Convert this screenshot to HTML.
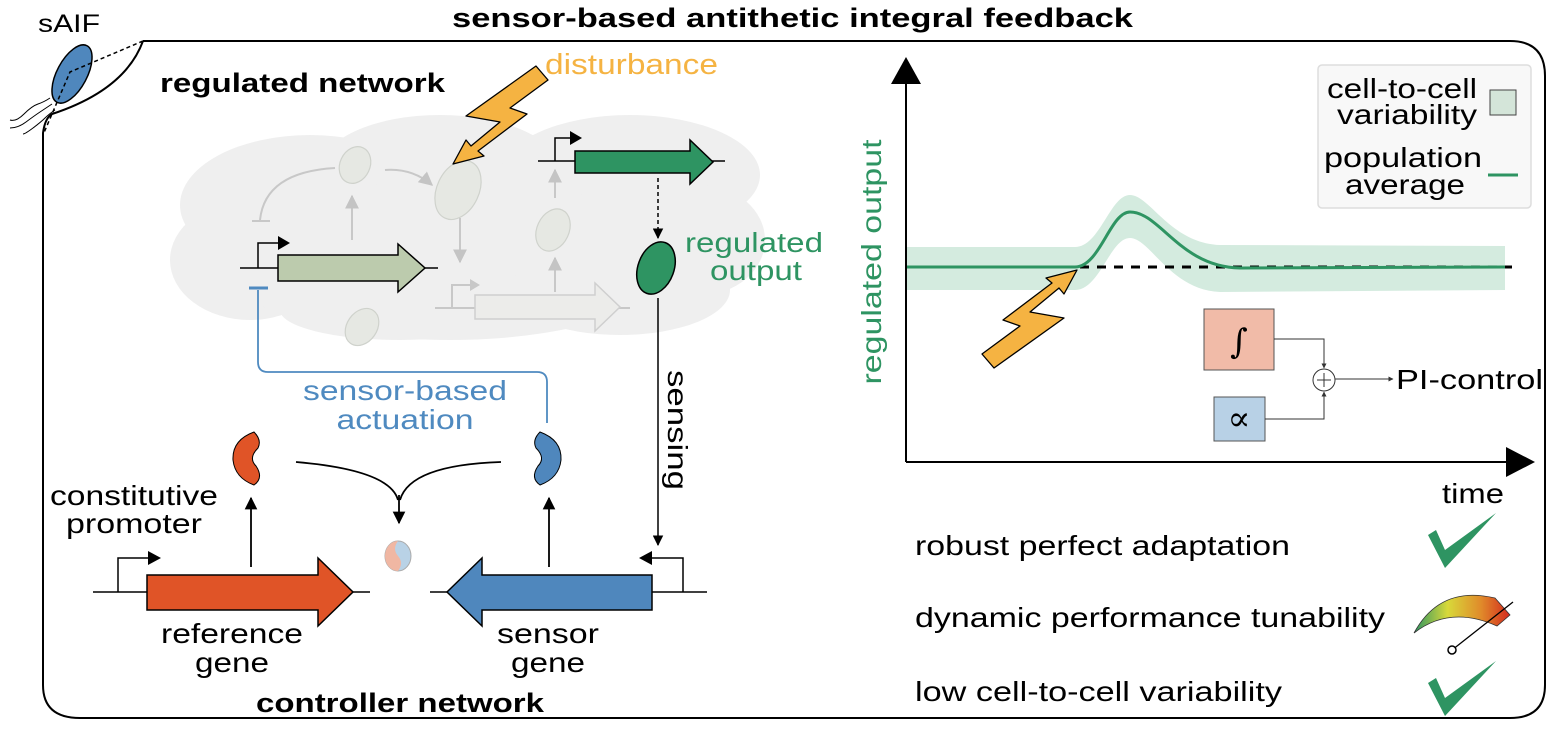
<!DOCTYPE html>
<html><head><meta charset="utf-8"><style>html,body{margin:0;padding:0;background:#fff}svg{display:block}</style></head><body>
<svg width="1553" height="731" viewBox="0 0 1553 731" xmlns="http://www.w3.org/2000/svg" font-family="Liberation Sans, sans-serif">
<defs>
<marker id="ah" viewBox="0 0 10 10" refX="9" refY="5" markerWidth="7" markerHeight="7" orient="auto"><path d="M0,0L10,5L0,10z" fill="#000"/></marker>
<marker id="ag" viewBox="0 0 10 10" refX="9" refY="5" markerWidth="7" markerHeight="7" orient="auto"><path d="M0,0L10,5L0,10z" fill="#c4c4c4"/></marker>
<marker id="as" viewBox="0 0 10 10" refX="9" refY="5" markerWidth="5" markerHeight="5" orient="auto"><path d="M0,0L10,5L0,10z" fill="#333"/></marker>
<linearGradient id="gg" x1="0" x2="1"><stop offset="0" stop-color="#2e9462"/><stop offset="0.35" stop-color="#d8d93a"/><stop offset="0.7" stop-color="#e08a2a"/><stop offset="1" stop-color="#d42a1e"/></linearGradient>
</defs>
<!-- title -->
<text x="452" y="27" font-size="27" font-weight="bold" textLength="681" lengthAdjust="spacingAndGlyphs">sensor-based antithetic integral feedback</text>
<text x="38" y="32" font-size="25" textLength="62" lengthAdjust="spacingAndGlyphs">sAIF</text>
<!-- frame -->
<path d="M143,41 L1510,41 Q1545,41 1545,76 L1545,685 Q1545,718 1510,718 L80,718 Q43,718 43,685 L43,133 Q45,118 52,114 Q125,90 143,41" fill="none" stroke="#000" stroke-width="2"/>
<!-- cell -->
<path d="M50,98 q-6,4 -12,6 t-14,10 t-14,6 M52,104 q-6,4 -12,8 t-14,10 t-16,6 M55,110 q-6,4 -10,8 t-12,10 t-10,6" fill="none" stroke="#000" stroke-width="1"/>
<ellipse cx="72" cy="74" rx="15" ry="32" transform="rotate(28 72 74)" fill="#4f87bd" stroke="#000" stroke-width="1.5"/>
<path d="M143,41 L70,72 L43,135" fill="none" stroke="#000" stroke-width="1.5" stroke-dasharray="4,3"/>
<!-- regulated network -->
<text x="160" y="92" font-size="27" font-weight="bold" textLength="285" lengthAdjust="spacingAndGlyphs">regulated network</text>
<text x="545" y="74" font-size="29" fill="#f5b342" textLength="173" lengthAdjust="spacingAndGlyphs">disturbance</text>
<!-- cloud -->
<g fill="#efefef">
<ellipse cx="310" cy="205" rx="130" ry="70"/><ellipse cx="440" cy="170" rx="120" ry="55"/><ellipse cx="630" cy="175" rx="130" ry="60"/>
<ellipse cx="250" cy="260" rx="80" ry="60"/><ellipse cx="450" cy="260" rx="230" ry="80"/><ellipse cx="700" cy="240" rx="65" ry="55"/>
<ellipse cx="400" cy="310" rx="120" ry="30"/><ellipse cx="620" cy="290" rx="110" ry="45"/>
</g>
<!-- faded stuff -->
<g stroke="#c8c8c8" stroke-width="2" fill="none">
<path d="M260,220 Q265,172 335,168"/>
<line x1="252" y1="221" x2="270" y2="221"/>
<path d="M385,170 Q412,168 432,185" marker-end="url(#ag)"/>
<line x1="352" y1="240" x2="352" y2="196" marker-end="url(#ag)"/>
<line x1="460" y1="218" x2="460" y2="262" marker-end="url(#ag)"/>
<line x1="555" y1="292" x2="555" y2="258" marker-end="url(#ag)"/>
<line x1="555" y1="198" x2="555" y2="170" marker-end="url(#ag)"/>
<line x1="435" y1="308" x2="630" y2="308"/>
<path d="M452,308 V285 H470"/>
</g>
<path d="M470,279 L480,285 L470,291z" fill="#c8c8c8"/>
<path d="M475,295 H595 V283 L620,307 L595,331 V319 H475z" fill="#ececea" stroke="#cfcfcf" stroke-width="1.5"/>
<g fill="#e6e8e3" stroke="#cfd2cc" stroke-width="1.2">
<ellipse cx="355" cy="165" rx="15" ry="19" transform="rotate(25 355 165)"/>
<ellipse cx="458" cy="190" rx="21" ry="31" transform="rotate(25 458 190)"/>
<ellipse cx="553" cy="230" rx="16" ry="22" transform="rotate(25 553 230)"/>
<ellipse cx="362" cy="327" rx="15" ry="20" transform="rotate(35 362 327)"/>
</g>
<!-- lightning 1 -->
<path id="bolt" d="M536,66 L548,80 L510,108 L527,114 L478,151 L484,156 L453,164 L466,140 L471,146 L500,122 L466,116z" fill="#f5b342" stroke="#000" stroke-width="1.3" stroke-linejoin="round"/>
<!-- green-gray gene -->
<line x1="240" y1="268" x2="438" y2="268" stroke="#000" stroke-width="1.5"/>
<path d="M258,268 V243 H280" fill="none" stroke="#000" stroke-width="1.5"/>
<path d="M278,236 L290,243 L278,250z"/>
<path d="M278,255 H398 V244 L425,268 L398,292 V281 H278z" fill="#bccbad" stroke="#000" stroke-width="1.5"/>
<!-- dark green gene -->
<line x1="538" y1="161" x2="725" y2="161" stroke="#000" stroke-width="1.5"/>
<path d="M555,161 V138 H572" fill="none" stroke="#000" stroke-width="1.5"/>
<path d="M570,131 L582,138 L570,145z"/>
<path d="M575,151 H690 V140 L713,162 L690,184 V173 H575z" fill="#2e9462" stroke="#000" stroke-width="1.5"/>
<line x1="658" y1="178" x2="658" y2="238" stroke="#000" stroke-width="1.5" stroke-dasharray="4,3" marker-end="url(#ah)"/>
<ellipse cx="656" cy="268" rx="18" ry="27" transform="rotate(20 656 268)" fill="#2e9462" stroke="#000" stroke-width="1.5"/>
<text x="754" y="252" font-size="28" fill="#2e9462" text-anchor="middle" textLength="138" lengthAdjust="spacingAndGlyphs">regulated</text>
<text x="756" y="280" font-size="28" fill="#2e9462" text-anchor="middle" textLength="92" lengthAdjust="spacingAndGlyphs">output</text>
<!-- sensing -->
<line x1="658" y1="298" x2="658" y2="545" stroke="#000" stroke-width="1.5" marker-end="url(#ah)"/>
<text transform="translate(668,370) rotate(90)" font-size="28" textLength="120" lengthAdjust="spacingAndGlyphs">sensing</text>
<!-- actuation -->
<path d="M258,290 V362 Q258,372 268,372 H537 Q547,372 547,382 V423" fill="none" stroke="#4f8ac0" stroke-width="1.8"/>
<line x1="249" y1="288" x2="268" y2="288" stroke="#4f8ac0" stroke-width="3"/>
<text x="405" y="400" font-size="28" fill="#4f8ac0" text-anchor="middle" textLength="204" lengthAdjust="spacingAndGlyphs">sensor-based</text>
<text x="405" y="429" font-size="28" fill="#4f8ac0" text-anchor="middle" textLength="137" lengthAdjust="spacingAndGlyphs">actuation</text>
<!-- proteins -->
<path d="M254,432 Q232,440 233,460 Q235,478 254,485 Q264,478 256,466 Q248,458 258,448 Q262,440 254,432z" fill="#e05427" stroke="#000" stroke-width="1"/>
<path d="M540,432 Q562,440 561,460 Q559,478 540,485 Q530,478 538,466 Q546,458 536,448 Q532,440 540,432z" fill="#4f87bd" stroke="#000" stroke-width="1"/>
<path d="M296,462 Q390,470 398,500 M501,462 Q410,465 400,500" fill="none" stroke="#000" stroke-width="1.8"/>
<line x1="399" y1="495" x2="399" y2="523" stroke="#000" stroke-width="1.8" marker-end="url(#ah)"/>
<ellipse cx="398" cy="556" rx="13" ry="15" fill="#b9d2e6" stroke="#aaa"/>
<path d="M398,541 Q392,549 398,556 Q404,563 398,571 A13,15 0 0 1 398,541z" fill="#f0b7a3"/>
<line x1="251" y1="567" x2="251" y2="498" stroke="#000" stroke-width="1.8" marker-end="url(#ah)"/>
<line x1="549" y1="567" x2="549" y2="498" stroke="#000" stroke-width="1.8" marker-end="url(#ah)"/>
<text x="134" y="505" font-size="28" text-anchor="middle" textLength="168" lengthAdjust="spacingAndGlyphs">constitutive</text>
<text x="134" y="533" font-size="28" text-anchor="middle" textLength="136" lengthAdjust="spacingAndGlyphs">promoter</text>
<!-- reference gene -->
<line x1="93" y1="592" x2="370" y2="592" stroke="#000" stroke-width="1.5"/>
<path d="M118,592 V558 H150" fill="none" stroke="#000" stroke-width="1.5"/>
<path d="M148,551 L161,558 L148,565z"/>
<path d="M147,575 H318 V558 L353,592 L318,626 V610 H147z" fill="#e05427" stroke="#000" stroke-width="1.5"/>
<!-- sensor gene -->
<line x1="430" y1="592" x2="707" y2="592" stroke="#000" stroke-width="1.5"/>
<path d="M683,592 V558 H650" fill="none" stroke="#000" stroke-width="1.5"/>
<path d="M652,551 L639,558 L652,565z"/>
<path d="M652,575 H482 V558 L447,592 L482,626 V610 H652z" fill="#4f87bd" stroke="#000" stroke-width="1.5"/>
<text x="232" y="643" font-size="28" text-anchor="middle" textLength="142" lengthAdjust="spacingAndGlyphs">reference</text>
<text x="232" y="672" font-size="28" text-anchor="middle" textLength="74" lengthAdjust="spacingAndGlyphs">gene</text>
<text x="548" y="643" font-size="28" text-anchor="middle" textLength="102" lengthAdjust="spacingAndGlyphs">sensor</text>
<text x="548" y="672" font-size="28" text-anchor="middle" textLength="74" lengthAdjust="spacingAndGlyphs">gene</text>
<text x="400" y="712" font-size="27" font-weight="bold" text-anchor="middle" textLength="288" lengthAdjust="spacingAndGlyphs">controller network</text>
<!-- plot -->
<path d="M907,247 H1075 C1100,247 1110,195 1130,195 C1150,195 1170,243 1220,245 L1505,246 V290 L1220,292 C1170,290 1150,238 1130,238 C1110,238 1100,290 1075,290 H907z" fill="#d4ebdf"/>
<line x1="1080" y1="267" x2="1512" y2="267" stroke="#000" stroke-width="3" stroke-dasharray="9,8"/>
<path d="M907,267 H1075 C1100,267 1110,212 1130,212 C1160,212 1180,267 1240,268 L1505,267" fill="none" stroke="#2e9462" stroke-width="3"/>
<line x1="906" y1="462" x2="906" y2="80" stroke="#000" stroke-width="2"/>
<path d="M891,84 L906,57 L921,84z"/>
<line x1="906" y1="462" x2="1510" y2="462" stroke="#000" stroke-width="2"/>
<path d="M1506,447 L1535,462 L1506,477z"/>
<text transform="translate(881,262) rotate(-90)" font-size="28" fill="#2e9462" text-anchor="middle" textLength="245" lengthAdjust="spacingAndGlyphs">regulated output</text>
<path d="M536,66 L548,80 L510,108 L527,114 L478,151 L484,156 L453,164 L466,140 L471,146 L500,122 L466,116z" transform="translate(1530,434) rotate(180)" fill="#f5b342" stroke="#000" stroke-width="1.3" stroke-linejoin="round"/>
<rect x="1318" y="65" width="213" height="143" rx="4" fill="#f8f8f8" stroke="#ddd" stroke-width="1.5"/>
<text x="1477" y="98" font-size="28" text-anchor="end" textLength="150" lengthAdjust="spacingAndGlyphs">cell-to-cell</text>
<text x="1477" y="124" font-size="28" text-anchor="end" textLength="140" lengthAdjust="spacingAndGlyphs">variability</text>
<rect x="1490" y="90" width="26" height="25" fill="#d4e5d9" stroke="#444" stroke-width="1"/>
<text x="1482" y="167" font-size="28" text-anchor="end" textLength="158" lengthAdjust="spacingAndGlyphs">population</text>
<text x="1465" y="194" font-size="28" text-anchor="end" textLength="120" lengthAdjust="spacingAndGlyphs">average</text>
<line x1="1488" y1="175" x2="1518" y2="175" stroke="#2e9462" stroke-width="3"/>
<rect x="1204" y="309" width="70" height="61" fill="#f1bba8" stroke="#555" stroke-width="1"/>
<text x="1239" y="353" font-size="34" font-style="italic" text-anchor="middle" font-family="DejaVu Serif, serif">∫</text>
<rect x="1214" y="397" width="51" height="44" fill="#b8d1e6" stroke="#555" stroke-width="1"/>
<text x="1239" y="430" font-size="34" text-anchor="middle" font-family="DejaVu Serif, serif">∝</text>
<path d="M1274,339 H1324 V368" fill="none" stroke="#333" stroke-width="1" marker-end="url(#as)"/>
<path d="M1265,419 H1324 V392" fill="none" stroke="#333" stroke-width="1" marker-end="url(#as)"/>
<circle cx="1324" cy="380" r="11" fill="#fff" stroke="#333"/>
<path d="M1317,380 H1331 M1324,373 V387" stroke="#333" stroke-width="1"/>
<line x1="1335" y1="379" x2="1393" y2="379" stroke="#333" stroke-width="1" marker-end="url(#as)"/>
<text x="1396" y="389" font-size="28" textLength="147" lengthAdjust="spacingAndGlyphs">PI-control</text>
<text x="1473" y="503" font-size="28" text-anchor="middle" textLength="62" lengthAdjust="spacingAndGlyphs">time</text>
<!-- properties -->
<text x="915" y="555" font-size="28" textLength="375" lengthAdjust="spacingAndGlyphs">robust perfect adaptation</text>
<text x="915" y="627" font-size="28" textLength="470" lengthAdjust="spacingAndGlyphs">dynamic performance tunability</text>
<text x="915" y="701" font-size="28" textLength="367" lengthAdjust="spacingAndGlyphs">low cell-to-cell variability</text>
<path d="M1428,535 L1436,530 L1445,550 L1496,513 L1445,568z" fill="#2e9462"/>
<path d="M1428,683 L1436,678 L1445,698 L1496,661 L1445,716z" fill="#2e9462"/>
<path d="M1414,633 Q1440,585 1495,598 L1510,615 L1497,626 Q1450,605 1414,633z" fill="url(#gg)" stroke="#333" stroke-width="0.8"/>
<line x1="1452" y1="650" x2="1513" y2="602" stroke="#000" stroke-width="1.3"/>
<circle cx="1452" cy="650" r="4" fill="#fff" stroke="#000" stroke-width="1.5"/>
</svg>
</body></html>
